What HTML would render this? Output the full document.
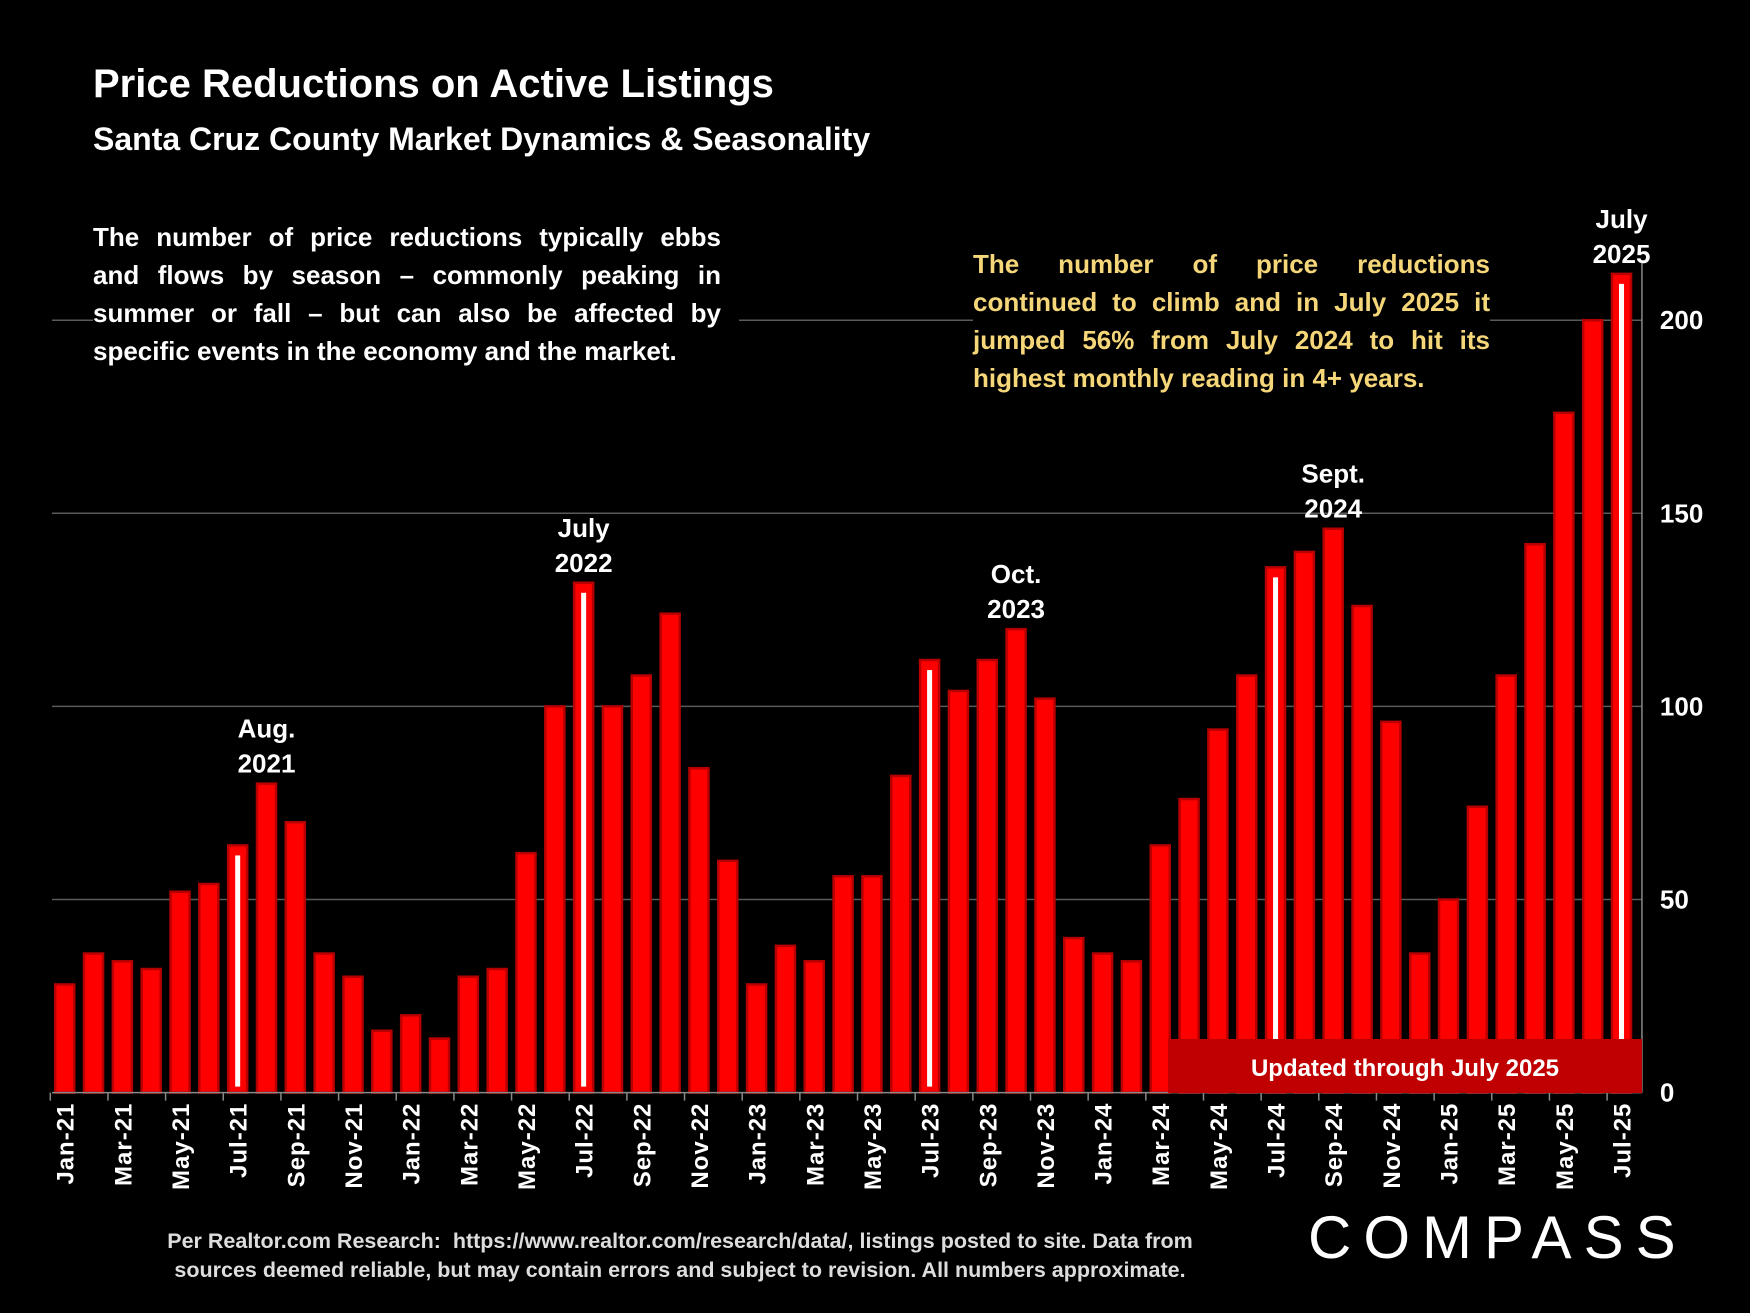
<!DOCTYPE html>
<html><head><meta charset="utf-8">
<style>
html,body{margin:0;padding:0;background:#000;}
body{width:1750px;height:1313px;position:relative;overflow:hidden;font-family:"Liberation Sans",sans-serif;}
svg{position:absolute;left:0;top:0;}
.box{position:absolute;background:#000;font-weight:bold;text-align:justify;text-align-last:left;}
.jl{display:block;text-align:justify;text-align-last:justify;white-space:nowrap;}
.jl.last{text-align-last:left;}
</style></head>
<body>
<svg id="chart" width="1750" height="1313" viewBox="0 0 1750 1313"></svg>

<div class="box" style="left:93px;top:62px;font-size:40px;color:#fff;background:none;">Price Reductions on Active Listings</div>
<div class="box" style="left:93px;top:121px;font-size:32px;color:#fff;background:none;">Santa Cruz County Market Dynamics &amp; Seasonality</div>

<div class="box" style="left:93px;top:218px;width:628px;font-size:26px;line-height:38px;color:#fff;padding-right:18px;">
<span class="jl" style="white-space:normal;text-align-last:justify;">The number of price reductions typically ebbs</span>
<span class="jl" style="white-space:normal;text-align-last:justify;">and flows by season – commonly peaking in</span>
<span class="jl" style="white-space:normal;text-align-last:justify;">summer or fall – but can also be affected by</span>
<span class="jl last">specific events in the economy and the market.</span>
</div>

<div class="box" style="left:973px;top:245px;width:517px;font-size:26px;line-height:38px;color:#f5d77a;padding-right:0;padding-bottom:6px;">The number of price reductions continued to climb and in July 2025 it jumped 56% from July 2024 to hit its highest monthly reading in 4+ years.</div>

<div style="position:absolute;left:80px;top:1227px;width:1200px;text-align:center;font-weight:bold;font-size:21.5px;line-height:29px;color:#ddd;">Per Realtor.com Research:&nbsp; https://www.realtor.com/research/data/, listings posted to site. Data from<br>sources deemed reliable, but may contain errors and subject to revision. All numbers approximate.</div>

<div style="position:absolute;left:1308px;top:1206px;font-size:60px;letter-spacing:12px;color:#fff;font-weight:normal;line-height:64px;">COMPASS</div>

<script>
const categories = ["Jan-21","Feb-21","Mar-21","Apr-21","May-21","Jun-21","Jul-21","Aug-21","Sep-21","Oct-21","Nov-21","Dec-21",
"Jan-22","Feb-22","Mar-22","Apr-22","May-22","Jun-22","Jul-22","Aug-22","Sep-22","Oct-22","Nov-22","Dec-22",
"Jan-23","Feb-23","Mar-23","Apr-23","May-23","Jun-23","Jul-23","Aug-23","Sep-23","Oct-23","Nov-23","Dec-23",
"Jan-24","Feb-24","Mar-24","Apr-24","May-24","Jun-24","Jul-24","Aug-24","Sep-24","Oct-24","Nov-24","Dec-24",
"Jan-25","Feb-25","Mar-25","Apr-25","May-25","Jun-25","Jul-25"];
const values = [28,36,34,32,52,54,64,80,70,36,30,16,
20,14,30,32,62,100,132,100,108,124,84,60,
28,38,34,56,56,82,112,104,112,120,102,40,
36,34,64,76,94,108,136,140,146,126,96,36,
50,74,108,142,176,200,212];
const highlighted = ["Jul-21","Jul-22","Jul-23","Jul-24","Jul-25"];
const yTicks = [0,50,100,150,200];
const annotations = [["Aug-21","Aug.","2021"],["Jul-22","July","2022"],["Oct-23","Oct.","2023"],["Sep-24","Sept.","2024"],["Jul-25","July","2025"]];

const NS="http://www.w3.org/2000/svg";
const svg=document.getElementById('chart');
const x0=64.7, step=28.83, baseY=1092.6, pxPer=193.1/50, barW=19;
const xPos=i=>x0+i*step;
const yPos=v=>baseY-v*pxPer;
function mk(tag,attrs,parent){const e=document.createElementNS(NS,tag);for(const k in attrs)e.setAttribute(k,attrs[k]);(parent||svg).appendChild(e);return e;}
const axisRight=xPos(categories.length-1)+step/2+6;

yTicks.forEach(t=>{
  if(t>0){
    const g=mk('line',{x1:52,x2:axisRight,y1:yPos(t),y2:yPos(t),stroke:'#5a5a5a','stroke-width':1.5});
    
    
  }
  const tl=mk('text',{x:axisRight+18,y:yPos(t)+9,fill:'#fff','font-size':26,'font-weight':'bold','font-family':'Liberation Sans, sans-serif'});
  tl.textContent=t;
  
  
});
const ax=mk('line',{x1:axisRight,x2:axisRight,y1:yPos(212)-12,y2:baseY,stroke:'#888','stroke-width':1.5});



values.forEach((v,i)=>{
  const x=xPos(i);
  const r=mk('rect',{x:x-barW/2,y:yPos(v),width:barW,height:baseY-yPos(v),fill:'#ff0000',stroke:'#b80000','stroke-width':2.5});
  
  
  if(highlighted.includes(categories[i])){
    const s=mk('rect',{x:x-2.5,y:yPos(v)+10,width:5,height:baseY-yPos(v)-16,fill:'#fff'});
    
    
  }
});

const xa=mk('line',{x1:52,x2:axisRight,y1:baseY,y2:baseY,stroke:'#888','stroke-width':1.5});


for(let i=0;i<=categories.length;i+=2){
  const tx=xPos(i)-step/2;
  const tk=mk('line',{x1:tx,x2:tx,y1:baseY,y2:baseY+8,stroke:'#888','stroke-width':1.5});
  
  
}
categories.forEach((c,i)=>{
  if(i%2) return;
  const x=xPos(i)+9, y=baseY+10;
  const t=mk('text',{x:x,y:y,transform:`rotate(-90 ${x} ${y})`,'text-anchor':'end',fill:'#fff','font-size':24,'font-weight':'bold','letter-spacing':1,'font-family':'Liberation Sans, sans-serif'});
  t.textContent=c;
  
  
});

annotations.forEach(a=>{
  const i=categories.indexOf(a[0]);
  const top=yPos(values[i]);
  const g=mk('g',{});
  
  
  [a[1],a[2]].forEach((s,k)=>{
    const t=mk('text',{x:xPos(i),y:top-46+k*35,'text-anchor':'middle',fill:'#fff','font-size':26,'font-weight':'bold','font-family':'Liberation Sans, sans-serif'},g);
    t.textContent=s;
  });
});

const ub=mk('rect',{x:1168,y:1039,width:474,height:54,fill:'#c00000'});


const ut=mk('text',{x:1405,y:1076,'text-anchor':'middle',fill:'#fff','font-size':24,'font-weight':'bold','font-family':'Liberation Sans, sans-serif'});
ut.textContent='Updated through July 2025';


</script>
</body></html>
